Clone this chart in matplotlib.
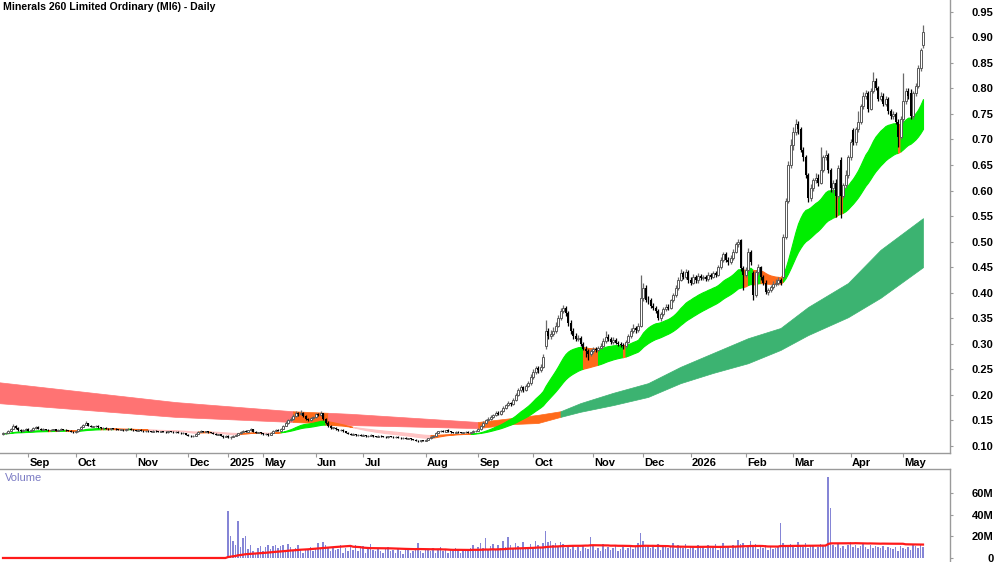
import matplotlib
matplotlib.use("Agg")

import numpy as np
import pandas as pd
import matplotlib.pyplot as plt
import matplotlib.transforms as mtransforms

plt.rcParams["font.family"] = ["Liberation Sans Narrow", "Liberation Sans", "DejaVu Sans"]

TITLE = "Minerals 260 Limited Ordinary (MI6) - Daily"

# month labels and the bar index of the first session of each month
MONTHS = ["Sep", "Oct", "Nov", "Dec", "2025", "May", "Jun", "Jul", "Aug",
          "Sep", "Oct", "Nov", "Dec", "2026", "Feb", "Mar", "Apr", "May"]
MONTH_IDX = [10, 29, 53, 74, 90, 104, 125, 144, 169, 190, 212, 236, 256, 275, 297, 316, 339, 360]

# daily bars, prices in cents
OPEN = [
    12.4, 12.5, 12.6, 13.0, 13.4, 14.0, 13.5, 13.2, 13.0, 13.2, 13.4, 13.0,
    13.2, 13.5, 13.8, 13.4, 13.2, 13.3, 13.2, 13.1, 13.2, 13.3, 13.0, 13.2,
    13.3, 13.2, 13.1, 13.0, 12.8, 12.7, 12.9, 13.3, 13.8, 14.2, 14.5, 14.0,
    13.8, 13.9, 14.0, 13.7, 13.5, 13.6, 13.4, 13.3, 13.5, 13.4, 13.3, 13.2,
    13.2, 13.1, 13.3, 13.4, 13.2, 13.1, 13.0, 13.2, 13.0, 12.9, 13.0, 12.9,
    12.8, 13.0, 12.9, 12.8, 12.9, 12.8, 12.7, 12.9, 12.8, 12.7, 12.8, 12.6,
    12.5, 12.5, 12.2, 12.0, 11.9, 12.0, 12.4, 12.8, 12.9, 12.8, 12.9, 12.7,
    12.6, 12.4, 12.2, 12.3, 12.0, 11.8, 12.0, 11.7, 11.8, 12.0, 12.2, 12.5,
    12.8, 13.0, 12.8, 13.1, 13.3, 12.8, 12.6, 12.7, 12.5, 12.3, 12.4, 12.2,
    12.6, 13.0, 13.2, 13.0, 13.4, 14.0, 14.6, 15.0, 15.2, 15.8, 16.4, 16.2,
    16.5, 15.8, 15.3, 15.0, 15.4, 15.6, 16.2, 16.0, 16.4, 15.2, 14.6, 14.0,
    13.6, 13.6, 13.3, 13.1, 13.2, 12.9, 12.6, 12.4, 12.2, 12.3, 12.1, 12.2,
    12.0, 12.1, 11.9, 12.0, 12.1, 11.9, 11.8, 12.0, 11.9, 11.8, 11.7, 11.9,
    11.8, 11.7, 11.8, 11.6, 11.5, 11.6, 11.4, 11.5, 11.3, 11.2, 11.0, 10.9,
    11.1, 11.0, 11.2, 11.5, 11.8, 12.0, 12.6, 12.9, 13.0, 12.8, 13.1, 12.9,
    12.7, 12.6, 12.8, 12.7, 12.6, 12.7, 12.8, 12.6, 12.7, 12.9, 13.0, 13.3,
    14.0, 14.5, 15.0, 15.2, 15.6, 16.0, 16.5, 16.2, 16.8, 17.5, 18.0, 18.4,
    18.2, 19.0, 20.0, 21.0, 21.5, 21.0, 21.8, 22.3, 23.5, 24.5, 25.2, 24.8,
    25.5, 29.5, 32.5, 31.5, 32.0, 32.5, 33.5, 35.0, 36.5, 37.0, 36.0, 34.0,
    32.5, 31.5, 31.0, 31.2, 30.0, 29.0, 28.5, 28.0, 28.6, 29.0, 28.8, 29.2,
    29.6, 30.5, 31.3, 31.0, 30.3, 30.8, 30.2, 30.0, 29.8, 29.5, 30.4, 31.5,
    32.5, 33.0, 32.7, 33.5, 39.0, 41.0, 38.6, 38.5, 37.5, 37.0, 36.5, 35.0,
    35.8, 36.8, 37.2, 37.0, 38.5, 39.5, 41.0, 42.5, 43.8, 43.0, 44.0, 42.5,
    42.0, 43.0, 42.5, 43.2, 42.8, 43.0, 42.6, 43.5, 43.0, 43.8, 43.5, 45.0,
    46.5, 47.5, 46.5, 46.0, 46.8, 48.0, 49.5, 50.3, 44.8, 43.5, 44.5, 48.0,
    43.8, 39.5, 44.0, 45.0, 43.0, 42.0, 40.2, 40.5, 41.2, 41.8, 42.0, 42.5,
    43.0, 51.0, 58.0, 65.0, 69.0, 71.5, 73.0, 72.0, 68.0, 66.5, 63.0, 58.5,
    60.5, 62.0, 62.5, 61.5, 64.0, 66.5, 67.0, 64.0, 60.5, 61.5, 59.0, 66.0,
    59.0, 61.0, 63.0, 66.5, 71.8, 69.5, 72.0, 73.5, 76.5, 78.5, 79.0, 76.0,
    79.5, 81.5, 80.0, 78.0, 78.5, 77.0, 78.0, 75.5, 74.5, 75.0, 73.5, 70.5,
    74.0, 77.5, 79.5, 79.0, 74.5, 79.0, 80.5, 84.0, 88.5,
]
HIGH = [
    12.7, 12.8, 13.2, 13.6, 14.3, 14.2, 13.7, 13.4, 13.4, 13.6, 13.5, 13.4,
    13.7, 14.0, 13.9, 13.5, 13.5, 13.4, 13.3, 13.3, 13.4, 13.4, 13.3, 13.5,
    13.4, 13.3, 13.2, 13.1, 12.9, 13.0, 13.4, 13.9, 14.4, 14.8, 14.6, 14.1,
    14.0, 14.2, 14.1, 13.8, 13.7, 13.7, 13.5, 13.6, 13.6, 13.5, 13.4, 13.3,
    13.3, 13.4, 13.6, 13.5, 13.3, 13.2, 13.3, 13.3, 13.1, 13.1, 13.1, 13.0,
    13.1, 13.1, 13.0, 13.0, 13.0, 12.9, 13.0, 13.0, 12.9, 12.9, 12.9, 12.7,
    12.7, 12.6, 12.3, 12.1, 12.1, 12.5, 12.9, 13.1, 13.0, 13.0, 13.0, 12.8,
    12.7, 12.5, 12.4, 12.4, 12.1, 12.1, 12.1, 11.9, 12.1, 12.3, 12.6, 13.0,
    13.2, 13.1, 13.2, 13.5, 13.4, 12.9, 12.8, 12.8, 12.6, 12.5, 12.5, 12.7,
    13.1, 13.4, 13.3, 13.6, 14.2, 14.8, 15.3, 15.6, 16.3, 16.8, 16.7, 17.0,
    16.6, 16.0, 15.5, 15.6, 15.8, 16.4, 16.5, 16.8, 16.5, 15.4, 14.8, 14.2,
    13.8, 13.7, 13.4, 13.4, 13.3, 13.0, 12.7, 12.5, 12.5, 12.4, 12.3, 12.3,
    12.3, 12.2, 12.2, 12.3, 12.2, 12.0, 12.1, 12.1, 12.0, 11.9, 12.0, 12.0,
    11.9, 11.9, 11.9, 11.7, 11.7, 11.7, 11.6, 11.6, 11.4, 11.3, 11.1, 11.2,
    11.2, 11.3, 11.6, 11.9, 12.1, 12.7, 13.0, 13.2, 13.1, 13.2, 13.3, 13.0,
    12.8, 12.9, 12.9, 12.8, 12.8, 12.9, 12.9, 12.8, 13.1, 13.2, 13.5, 14.2,
    14.8, 15.3, 15.6, 16.0, 16.3, 16.9, 16.8, 17.1, 17.8, 18.3, 18.8, 18.7,
    19.4, 20.4, 21.4, 22.0, 21.8, 22.2, 22.8, 24.0, 25.0, 25.7, 25.6, 26.0,
    28.0, 34.6, 33.0, 32.8, 33.2, 34.2, 35.6, 37.0, 37.6, 37.4, 36.4, 34.6,
    33.0, 32.2, 31.8, 31.6, 30.4, 29.5, 29.0, 29.0, 29.4, 29.4, 29.6, 30.2,
    31.2, 32.6, 32.0, 31.4, 31.3, 31.2, 30.6, 30.4, 30.2, 30.8, 31.9, 33.0,
    33.8, 33.4, 34.0, 43.5, 42.0, 41.5, 39.4, 39.0, 38.0, 37.5, 36.8, 36.2,
    37.2, 37.8, 37.8, 38.8, 40.0, 41.5, 43.0, 44.6, 44.2, 44.6, 44.4, 43.0,
    43.6, 43.4, 43.8, 43.6, 43.5, 43.4, 44.0, 43.8, 44.3, 44.2, 45.5, 47.0,
    48.0, 47.9, 46.9, 47.4, 48.5, 49.9, 50.6, 50.5, 45.2, 45.0, 48.7, 48.3,
    44.2, 44.5, 45.6, 45.3, 43.4, 42.4, 41.0, 41.6, 42.2, 42.6, 43.0, 42.8,
    51.5, 58.5, 65.8, 70.0, 72.5, 74.0, 73.6, 72.4, 68.5, 67.0, 63.5, 61.2,
    62.5, 63.4, 63.2, 68.5, 67.0, 68.0, 67.4, 64.5, 62.0, 62.2, 65.0, 66.5,
    61.5, 64.0, 67.0, 70.0, 72.2, 72.5, 75.5, 77.0, 79.2, 79.6, 79.4, 80.0,
    83.2, 82.0, 80.4, 79.2, 79.0, 78.6, 78.3, 76.0, 75.5, 75.4, 74.0, 74.6,
    83.0, 80.0, 80.0, 79.8, 79.5, 81.0, 84.5, 88.0, 92.4,
]
LOW = [
    12.2, 12.3, 12.5, 12.9, 13.3, 13.4, 13.0, 12.8, 12.9, 13.1, 12.9, 12.9,
    13.1, 13.4, 13.3, 13.1, 13.1, 13.1, 13.0, 13.0, 13.1, 12.9, 12.9, 13.1,
    13.1, 13.0, 12.9, 12.7, 12.5, 12.6, 12.8, 13.2, 13.7, 14.1, 13.9, 13.7,
    13.7, 13.8, 13.6, 13.4, 13.4, 13.3, 13.2, 13.2, 13.3, 13.2, 13.1, 13.1,
    13.0, 13.0, 13.2, 13.1, 13.0, 12.9, 12.9, 12.9, 12.8, 12.8, 12.8, 12.7,
    12.7, 12.8, 12.7, 12.7, 12.7, 12.6, 12.6, 12.7, 12.6, 12.6, 12.5, 12.4,
    12.4, 12.1, 11.9, 11.7, 11.8, 11.9, 12.3, 12.7, 12.7, 12.7, 12.6, 12.5,
    12.3, 12.1, 12.1, 11.9, 11.6, 11.7, 11.5, 11.4, 11.7, 11.9, 12.1, 12.4,
    12.7, 12.7, 12.7, 13.0, 12.7, 12.5, 12.5, 12.4, 12.1, 12.2, 12.0, 12.1,
    12.5, 12.9, 12.9, 12.9, 13.3, 13.9, 14.4, 14.8, 15.0, 15.6, 15.9, 16.0,
    15.6, 15.1, 14.8, 14.9, 15.2, 15.4, 15.8, 15.9, 15.0, 14.4, 13.8, 13.4,
    13.4, 13.2, 12.9, 13.0, 12.8, 12.5, 12.3, 12.1, 12.1, 12.0, 12.0, 11.9,
    11.9, 11.8, 11.8, 11.9, 11.8, 11.7, 11.7, 11.8, 11.7, 11.6, 11.6, 11.7,
    11.6, 11.6, 11.5, 11.4, 11.4, 11.3, 11.3, 11.2, 11.1, 10.9, 10.8, 10.8,
    10.9, 10.9, 11.1, 11.4, 11.7, 11.9, 12.5, 12.8, 12.7, 12.7, 12.8, 12.6,
    12.5, 12.5, 12.6, 12.5, 12.5, 12.6, 12.5, 12.5, 12.6, 12.8, 12.9, 13.2,
    13.8, 14.3, 14.8, 15.0, 15.4, 15.8, 16.0, 16.0, 16.6, 17.2, 17.8, 17.9,
    18.0, 18.8, 19.7, 20.6, 20.6, 20.8, 21.5, 22.0, 23.2, 24.1, 24.3, 24.4,
    25.3, 29.0, 31.0, 31.0, 31.6, 32.2, 33.2, 34.6, 36.0, 35.5, 33.5, 32.0,
    31.0, 30.5, 30.6, 29.6, 28.7, 27.5, 26.8, 27.6, 28.2, 28.4, 28.5, 28.9,
    29.4, 30.2, 30.6, 30.0, 30.0, 29.9, 29.6, 29.3, 29.0, 29.2, 30.1, 31.2,
    32.2, 32.2, 32.4, 33.2, 38.4, 38.2, 37.8, 37.0, 36.6, 36.0, 34.6, 34.4,
    35.5, 36.4, 36.6, 36.8, 38.2, 39.2, 40.6, 42.2, 42.6, 42.6, 42.0, 41.5,
    41.8, 42.0, 42.0, 42.4, 42.4, 42.2, 42.2, 42.6, 42.8, 43.1, 43.2, 44.7,
    46.1, 46.0, 45.5, 45.6, 46.5, 47.7, 49.0, 44.2, 40.5, 43.0, 44.2, 45.4,
    38.5, 39.2, 43.5, 42.5, 41.6, 39.8, 39.6, 40.2, 40.8, 41.4, 41.6, 41.5,
    42.8, 50.5, 57.6, 64.5, 68.0, 70.8, 71.0, 67.5, 65.8, 62.5, 57.8, 58.0,
    60.0, 61.5, 60.8, 61.2, 63.6, 66.0, 63.5, 59.8, 59.5, 54.8, 58.6, 54.6,
    58.5, 60.5, 62.5, 66.0, 69.0, 69.0, 71.5, 73.0, 76.0, 78.0, 75.4, 75.8,
    79.0, 79.6, 77.5, 77.5, 76.6, 76.6, 75.0, 74.0, 74.0, 73.0, 68.5, 70.0,
    73.5, 77.0, 78.0, 74.0, 74.0, 78.6, 80.0, 83.5, 88.0,
]
CLOSE = [
    12.5, 12.6, 13.0, 13.4, 14.0, 13.5, 13.2, 13.0, 13.2, 13.4, 13.0, 13.2,
    13.5, 13.8, 13.4, 13.2, 13.3, 13.2, 13.1, 13.2, 13.3, 13.0, 13.2, 13.3,
    13.2, 13.1, 13.0, 12.8, 12.7, 12.9, 13.3, 13.8, 14.2, 14.5, 14.0, 13.8,
    13.9, 14.0, 13.7, 13.5, 13.6, 13.4, 13.3, 13.5, 13.4, 13.3, 13.2, 13.2,
    13.1, 13.3, 13.4, 13.2, 13.1, 13.0, 13.2, 13.0, 12.9, 13.0, 12.9, 12.8,
    13.0, 12.9, 12.8, 12.9, 12.8, 12.7, 12.9, 12.8, 12.7, 12.8, 12.6, 12.5,
    12.5, 12.2, 12.0, 11.9, 12.0, 12.4, 12.8, 12.9, 12.8, 12.9, 12.7, 12.6,
    12.4, 12.2, 12.3, 12.0, 11.8, 12.0, 11.7, 11.8, 12.0, 12.2, 12.5, 12.8,
    13.0, 12.8, 13.1, 13.3, 12.8, 12.6, 12.7, 12.5, 12.3, 12.4, 12.2, 12.6,
    13.0, 13.2, 13.0, 13.4, 14.0, 14.6, 15.0, 15.2, 15.8, 16.4, 16.2, 16.5,
    15.8, 15.3, 15.0, 15.4, 15.6, 16.2, 16.0, 16.4, 15.2, 14.6, 14.0, 13.6,
    13.6, 13.3, 13.1, 13.2, 12.9, 12.6, 12.4, 12.2, 12.3, 12.1, 12.2, 12.0,
    12.1, 11.9, 12.0, 12.1, 11.9, 11.8, 12.0, 11.9, 11.8, 11.7, 11.9, 11.8,
    11.7, 11.8, 11.6, 11.5, 11.6, 11.4, 11.5, 11.3, 11.2, 11.0, 10.9, 11.1,
    11.0, 11.2, 11.5, 11.8, 12.0, 12.6, 12.9, 13.0, 12.8, 13.1, 12.9, 12.7,
    12.6, 12.8, 12.7, 12.6, 12.7, 12.8, 12.6, 12.7, 12.9, 13.0, 13.3, 14.0,
    14.5, 15.0, 15.2, 15.6, 16.0, 16.5, 16.2, 16.8, 17.5, 18.0, 18.4, 18.2,
    19.0, 20.0, 21.0, 21.5, 21.0, 21.8, 22.3, 23.5, 24.5, 25.2, 24.8, 25.5,
    27.4, 32.5, 31.5, 32.0, 32.5, 33.5, 35.0, 36.5, 37.0, 36.0, 34.0, 32.5,
    31.5, 31.0, 31.2, 30.0, 29.0, 28.5, 28.0, 28.6, 29.0, 28.8, 29.2, 29.6,
    30.5, 31.3, 31.0, 30.3, 30.8, 30.2, 30.0, 29.8, 29.5, 30.4, 31.5, 32.5,
    33.0, 32.7, 33.5, 39.0, 41.0, 38.6, 38.5, 37.5, 37.0, 36.5, 35.0, 35.8,
    36.8, 37.2, 37.0, 38.5, 39.5, 41.0, 42.5, 43.8, 43.0, 44.0, 42.5, 42.0,
    43.0, 42.5, 43.2, 42.8, 43.0, 42.6, 43.5, 43.0, 43.8, 43.5, 45.0, 46.5,
    47.5, 46.5, 46.0, 46.8, 48.0, 49.5, 50.0, 44.8, 43.5, 44.5, 48.0, 46.0,
    39.5, 44.0, 45.0, 43.0, 42.0, 40.2, 40.5, 41.2, 41.8, 42.0, 42.5, 42.0,
    51.0, 58.0, 65.0, 69.0, 71.5, 73.0, 72.0, 68.0, 66.5, 63.0, 58.5, 60.5,
    62.0, 62.5, 61.5, 64.0, 66.5, 67.0, 64.0, 60.5, 61.5, 59.0, 64.5, 59.0,
    61.0, 63.0, 66.5, 69.5, 69.5, 72.0, 73.5, 76.5, 78.5, 79.0, 76.0, 79.5,
    81.5, 80.0, 78.0, 78.5, 77.0, 78.0, 75.5, 74.5, 75.0, 73.5, 70.5, 74.0,
    77.5, 79.5, 78.5, 74.5, 79.0, 80.5, 84.0, 87.5, 91.0,
]

# volume in millions (no turnover shown before 2025)
VOLUME_M = [0] * 90 + [
    43, 20, 16, 12, 34, 10, 18, 20, 8, 12,
    6, 5, 9, 11, 6, 10, 12, 8, 11, 12,
    9, 11, 12, 6, 13, 10, 7, 9, 12, 8,
    5, 8, 7, 10, 6, 9, 14, 8, 15, 12,
    10, 6, 9, 7, 8, 12, 5, 9, 6, 10,
    7, 12, 6, 9, 11, 5, 8, 13, 7, 6,
    9, 6, 5, 8, 10, 6, 7, 5, 9, 6,
    4, 7, 8, 5, 6, 9, 14, 6, 5, 7,
    8, 6, 9, 5, 7, 10, 6, 8, 5, 7,
    6, 9, 7, 5, 8, 6, 7, 9, 12, 8,
    10, 14, 9, 18, 8, 11, 13, 7, 12, 9,
    16, 10, 19, 12, 9, 14, 11, 8, 15, 10,
    9, 13, 8, 16, 12, 10, 14, 25, 15, 16,
    12, 14, 10, 15, 13, 9, 11, 8, 12, 7,
    10, 6, 12, 9, 8, 19, 11, 7, 9, 6,
    13, 8, 10, 7, 9, 11, 6, 8, 10, 7,
    9, 12, 8, 11, 14, 23, 16, 10, 12, 9,
    11, 8, 13, 7, 10, 12, 9, 11, 14, 8,
    12, 10, 9, 13, 8, 11, 10, 7, 12, 9,
    10, 8, 12, 9, 11, 13, 7, 10, 14, 9,
    11, 8, 12, 10, 17, 13, 14, 9, 12, 16,
    10, 13, 8, 11, 9, 12, 7, 10, 8, 9,
    11, 32, 14, 12, 10, 13, 11, 9, 15, 12,
    10, 14, 9, 11, 12, 8, 10, 13, 11, 12,
    75, 46, 12, 10, 13, 9, 11, 8, 12, 15,
    10, 12, 9, 11, 14, 10, 8, 12, 9, 11,
    10, 9, 11, 7, 10, 9, 8, 10, 6, 11,
    9, 8, 10, 7, 12, 11, 9, 12, 10,
]

# long-term band: bar index, upper and lower edge
LB_IDX = [-2, 69, 116, 130, 139, 190, 204, 214, 223, 231, 244, 258, 271, 284, 298, 311, 322, 338, 351, 368]
LB_HI = [0.225, 0.186, 0.168, 0.165, 0.163, 0.147, 0.155, 0.161, 0.168, 0.184, 0.204, 0.223,
         0.255, 0.282, 0.311, 0.331, 0.372, 0.419, 0.484, 0.546]
LB_LO = [0.184, 0.157, 0.147, 0.144, 0.141, 0.135, 0.143, 0.145, 0.157, 0.167, 0.180, 0.196,
         0.223, 0.243, 0.262, 0.288, 0.317, 0.352, 0.390, 0.450]
LB_BREAKS = [-2, 116, 130, 190, 223, 368]
LB_STATE = ["down", "turn", "down", "turn", "up"]

# ---- derived arrays ----
o = np.array(OPEN) / 100
h = np.array(HIGH) / 100
l = np.array(LOW) / 100
c = np.array(CLOSE) / 100
vol = np.array(VOLUME_M, dtype=float) * 1e6
idx = np.arange(len(c))

ema = lambda s, n: pd.Series(s).ewm(span=n, adjust=False).mean().values
fast = ema(c, 24)
slow = ema(c, 48)
rising = np.r_[True, np.diff(fast) >= 0]
state = np.where((fast >= slow) & rising, 0, np.where((fast < slow) & ~rising, 2, 1))
sb_top = np.maximum(fast, slow)
sb_bot = np.minimum(fast, slow)

vol_ma = pd.Series(vol).rolling(50, min_periods=1).mean().values

# ---- figure ----
fig = plt.figure(figsize=(10, 5.62), dpi=100)
ax = fig.add_axes([0, 109 / 562, 0.95, 453 / 562])
axv = fig.add_axes([0, 0, 0.95, 93 / 562])

GREY = "#9a9a9a"

# long band
lb_colors = {"down": "#ff7373", "turn": "#ff6a1a", "up": "#3cb371"}
lbx = np.array(LB_IDX)
for a, b, st in zip(LB_BREAKS[:-1], LB_BREAKS[1:], LB_STATE):
    m = (lbx >= a) & (lbx <= b)
    ax.fill_between(lbx[m], np.array(LB_LO)[m], np.array(LB_HI)[m],
                    color=lb_colors[st], lw=0.5, zorder=1)

# short band
sb_colors = ["#00ee00", "#ff6a1a", "#ffc4c4"]
start = 0
n = len(c)
for k in range(1, n + 1):
    if k == n or state[k] != state[start]:
        seg = slice(start, min(k + 1, n))
        col = sb_colors[state[start]]
        ax.fill_between(idx[seg], sb_bot[seg], sb_top[seg], color=col,
                        edgecolor=col, lw=0.8, zorder=2)
        start = k

# candles
up = c >= o
ax.vlines(idx[up], l[up], h[up], color="#6a6a6a", lw=0.9, zorder=3)
ax.vlines(idx[~up], l[~up], h[~up], color="black", lw=0.9, zorder=3)
ax.bar(idx[up], np.maximum(c - o, 0.0008)[up], bottom=o[up], width=0.8,
       facecolor="white", edgecolor="#5a5a5a", lw=0.7, zorder=4)
ax.bar(idx[~up], np.maximum(o - c, 0.0008)[~up], bottom=c[~up], width=0.8,
       color="black", lw=0, zorder=4)

ax.set_xlim(-1.2, 378.8)
ax.set_ylim(0.0863, 0.973)
ax.yaxis.tick_right()
ax.set_yticks(np.arange(0.10, 0.951, 0.05))
ax.set_yticklabels([f"{v:.2f}" for v in np.arange(0.10, 0.951, 0.05)])
ax.tick_params(axis="y", length=2.5, width=0.8, color=GREY, pad=29, labelsize=8)
for t in ax.get_yticklabels():
    t.set_horizontalalignment("right")
    t.set_fontweight("bold")
ax.set_xticks(MONTH_IDX)
ax.set_xticklabels([])
ax.tick_params(axis="x", length=3, width=0.8, color=GREY, direction="out")
for s in ["left", "top"]:
    ax.spines[s].set_visible(False)
for s in ["right", "bottom"]:
    ax.spines[s].set_color(GREY)
    ax.spines[s].set_linewidth(1)

trans = mtransforms.blended_transform_factory(ax.transData, ax.transAxes)
for m_idx, lab in zip(MONTH_IDX, MONTHS):
    ax.text(m_idx + 0.6, -10 / 453, lab, transform=trans, ha="left", va="center",
            fontsize=8, fontweight="bold")

fig.text(0.003, 1 - 7 / 562, TITLE, ha="left", va="center", fontsize=7.6, fontweight="bold")

# volume panel
axv.bar(idx, vol, width=0.45, color="#8585d6", lw=0, zorder=2)
axv.plot(idx, vol_ma, color="#ff1a1a", lw=1.6, zorder=3)
axv.set_xlim(-1.2, 378.8)
axv.set_ylim(-3.7e6, 82e6)
axv.yaxis.tick_right()
axv.set_yticks([0, 20e6, 40e6, 60e6])
axv.set_yticklabels(["0", "20M", "40M", "60M"])
axv.tick_params(axis="y", length=2.5, width=0.8, color=GREY, pad=29, labelsize=8)
for t in axv.get_yticklabels():
    t.set_horizontalalignment("right")
    t.set_fontweight("bold")
axv.set_xticks([])
for s in ["left", "bottom"]:
    axv.spines[s].set_visible(False)
for s in ["right", "top"]:
    axv.spines[s].set_color(GREY)
    axv.spines[s].set_linewidth(1)
axv.text(5 / 950, 1 - 9 / 93, "Volume", transform=axv.transAxes, ha="left", va="center",
         fontsize=8, color="#7b7bc4")

fig.savefig("out.png", dpi=100)
